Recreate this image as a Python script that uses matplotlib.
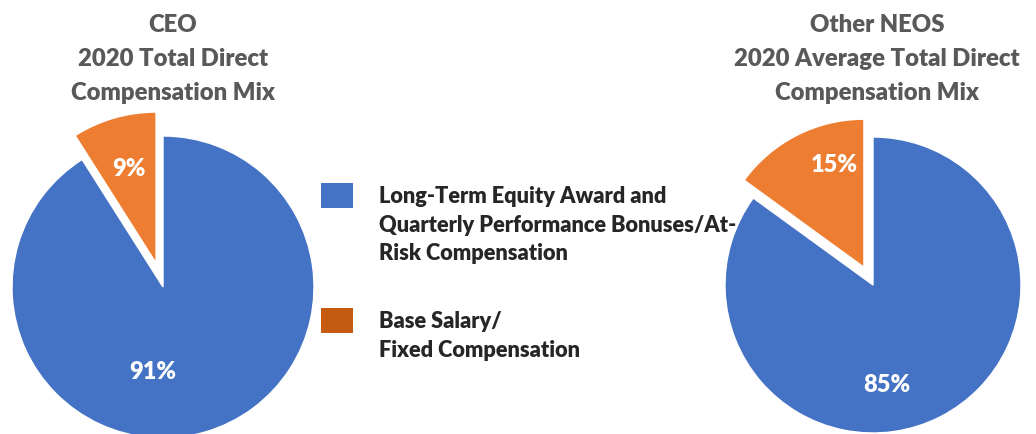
import numpy as np
import matplotlib
matplotlib.use('Agg')
import matplotlib.pyplot as plt
from matplotlib.patches import Rectangle

plt.rcParams['font.family'] = ['Lato', 'DejaVu Sans']

# data
series_names = ['Long-Term Equity Award and\nQuarterly Performance Bonuses/At-\nRisk Compensation',
                'Base Salary/\nFixed Compensation']
ceo_values = [91, 9]
neo_values = [85, 15]
ceo_title = ['CEO', '2020 Total Direct', 'Compensation Mix']
neo_title = ['Other NEOS', '2020 Average Total Direct', 'Compensation Mix']

pie_colors = ['#4472C4', '#ED7D31']
legend_colors = ['#4472C4', '#C55A11']
title_color = '#595959'

W, H = 1036, 434
fig = plt.figure(figsize=(W / 100, H / 100), dpi=100)


def fx(x):
    return x / W


def fy(y):
    return 1 - y / H


def draw_pie(values, cx, cy, r, explode, label_pos):
    # axes in pixels, limits +-1.25 so the exploded slice isn't clipped
    lim = 1.25
    size = 2 * lim * r
    ax = fig.add_axes([fx(cx - size / 2), fy(cy + size / 2), size / W, size / H])
    wedges, _ = ax.pie(values, colors=pie_colors, startangle=90, counterclock=False,
                       explode=[0, explode], wedgeprops=dict(edgecolor='white', linewidth=1))
    ax.set_xlim(-lim, lim)
    ax.set_ylim(-lim, lim)
    for w, v, (ang, rr) in zip(wedges, values, label_pos):
        x0, y0 = w.center
        a = np.deg2rad(ang)
        ax.text(x0 + rr * np.cos(a), y0 + rr * np.sin(a), f'{v}%', color='white',
                fontsize=17, fontweight='heavy', ha='center', va='center')
    return ax


draw_pie(ceo_values, 163, 287, 151, 0.165, [(263, 0.57), (106, 0.65)])
draw_pie(neo_values, 873, 285, 148, 0.135, [(278, 0.68), (106, 0.72)])

# titles
for lines, cx in [(ceo_title, 173), (neo_title, 877)]:
    for i, line in enumerate(lines):
        fig.text(fx(cx), fy(32 + i * 34), line, color=title_color, fontsize=17.2,
                 fontweight='heavy', ha='center', va='baseline')

# legend
legend_tops = [183, 308]
for name, col, top in zip(series_names, legend_colors, legend_tops):
    fig.add_artist(Rectangle((fx(321), fy(top + 25)), 32 / W, 25 / H, transform=fig.transFigure,
                             facecolor=col, edgecolor='none'))
    for i, line in enumerate(name.split('\n')):
        fig.text(fx(379), fy(top + 20 + i * 28.7), line, color='#262626', fontsize=15.7,
                 fontweight='heavy', ha='left', va='baseline')

fig.savefig('out.png', dpi=100)
